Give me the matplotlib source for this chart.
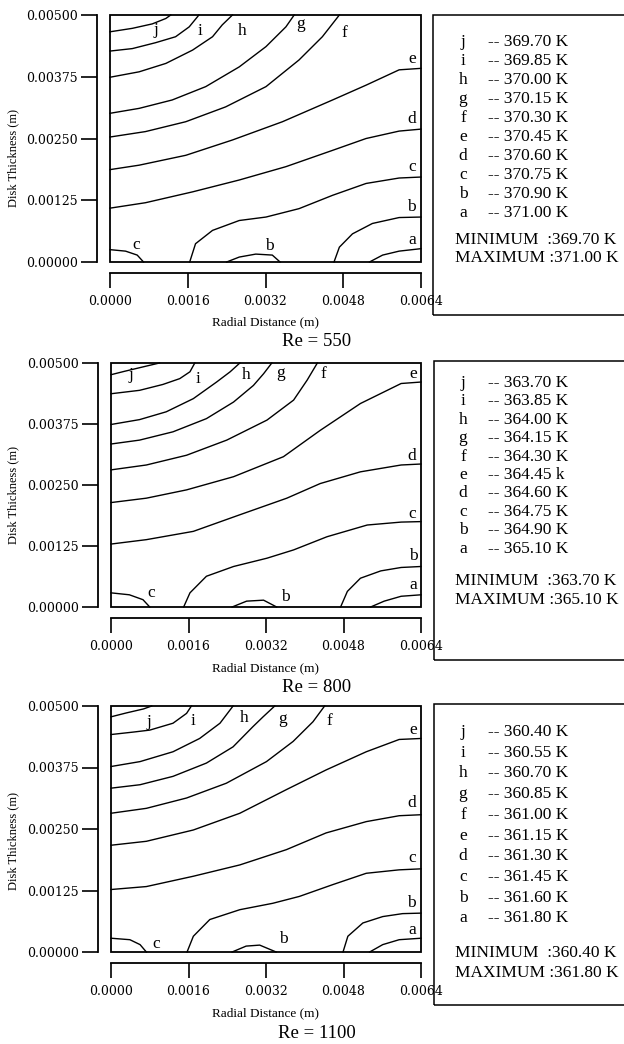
import matplotlib
matplotlib.use('Agg')
import matplotlib.pyplot as plt
from matplotlib.patches import Rectangle

plt.rcParams['font.family'] = ['Liberation Serif', 'DejaVu Serif']

W, H = 624, 1044

# 'data' : isotherms, x and y in mm
letters = ['j', 'i', 'h', 'g', 'f', 'e', 'd', 'c', 'b', 'a']
reynolds = ['550', '800', '1100']

temps_550 = ['369.70 K', '369.85 K', '370.00 K', '370.15 K', '370.30 K',
             '370.45 K', '370.60 K', '370.75 K', '370.90 K', '371.00 K']
temps_800 = ['363.70 K', '363.85 K', '364.00 K', '364.15 K', '364.30 K',
             '364.45 k', '364.60 K', '364.75 K', '364.90 K', '365.10 K']
temps_1100 = ['360.40 K', '360.55 K', '360.70 K', '360.85 K', '361.00 K',
              '361.15 K', '361.30 K', '361.45 K', '361.60 K', '361.80 K']
min_max = [('369.70 K', '371.00 K'), ('363.70 K', '365.10 K'), ('360.40 K', '361.80 K')]

iso_550 = [
    ([0, 0.46, 0.87, 1.15, 1.25], [4.66, 4.73, 4.82, 4.93, 5.0]),
    ([0, 0.46, 0.94, 1.35, 1.63, 1.83], [4.27, 4.32, 4.44, 4.56, 4.76, 5.0]),
    ([0, 0.60, 1.15, 1.70, 2.11, 2.31, 2.52], [3.74, 3.85, 4.02, 4.29, 4.56, 4.80, 5.0]),
    ([0, 0.60, 1.28, 1.97, 2.66, 3.21, 3.62, 3.79], [3.01, 3.11, 3.28, 3.55, 3.95, 4.36, 4.76, 5.0]),
    ([0, 0.73, 1.56, 2.38, 3.21, 3.89, 4.37, 4.72], [2.53, 2.64, 2.84, 3.14, 3.55, 4.09, 4.56, 5.0]),
    ([0, 0.60, 1.56, 2.52, 3.55, 4.58, 5.27, 5.95, 6.4], [1.87, 1.96, 2.16, 2.47, 2.84, 3.28, 3.58, 3.89, 3.92]),
    ([0, 0.73, 1.70, 2.66, 3.62, 4.58, 5.27, 5.95, 6.4], [1.09, 1.20, 1.42, 1.66, 1.93, 2.26, 2.50, 2.65, 2.69]),
    ([1.64, 1.76, 2.11, 2.66, 3.21, 3.89, 4.58, 5.27, 5.95, 6.4], [0, 0.37, 0.64, 0.84, 0.91, 1.08, 1.35, 1.59, 1.70, 1.72]),
    ([0, 0.32, 0.56, 0.69], [0.25, 0.22, 0.14, 0]),
    ([2.40, 2.66, 3.00, 3.34, 3.50], [0, 0.10, 0.16, 0.14, 0]),
    ([4.61, 4.72, 4.99, 5.40, 5.95, 6.4], [0, 0.30, 0.57, 0.78, 0.90, 0.91]),
    ([5.34, 5.61, 5.95, 6.4], [0, 0.14, 0.22, 0.27]),
]
tags_550 = [('j', 0.94, 4.70), ('i', 1.85, 4.68), ('h', 2.71, 4.68), ('g', 3.93, 4.82),
            ('f', 4.82, 4.63), ('e', 6.21, 4.10), ('d', 6.21, 2.89), ('c', 6.21, 1.93),
            ('b', 6.21, 1.11), ('a', 6.21, 0.45), ('c', 0.53, 0.35), ('b', 3.28, 0.32)]

iso_800 = [
    ([0, 0.28, 0.66, 1.00], [4.76, 4.83, 4.92, 5.0]),
    ([0, 0.59, 1.07, 1.42, 1.63, 1.73], [4.37, 4.44, 4.56, 4.68, 4.82, 5.0]),
    ([0, 0.59, 1.14, 1.70, 2.18, 2.46, 2.66], [3.74, 3.84, 4.00, 4.27, 4.61, 4.82, 5.0]),
    ([0, 0.59, 1.28, 1.97, 2.53, 2.94, 3.15, 3.32], [3.34, 3.42, 3.59, 3.86, 4.20, 4.54, 4.78, 5.0]),
    ([0, 0.73, 1.56, 2.39, 3.22, 3.77, 4.05, 4.26], [2.81, 2.91, 3.11, 3.42, 3.83, 4.24, 4.65, 5.0]),
    ([0, 0.73, 1.56, 2.53, 3.56, 4.32, 5.15, 5.99, 6.4], [2.14, 2.23, 2.40, 2.67, 3.08, 3.62, 4.17, 4.58, 4.61]),
    ([0, 0.73, 1.70, 2.66, 3.63, 4.32, 5.15, 5.99, 6.4], [1.29, 1.38, 1.55, 1.89, 2.23, 2.53, 2.77, 2.91, 2.93]),
    ([1.50, 1.63, 1.97, 2.53, 3.22, 3.77, 4.46, 5.29, 5.99, 6.4], [0, 0.29, 0.63, 0.83, 1.00, 1.17, 1.44, 1.68, 1.74, 1.75]),
    ([0, 0.38, 0.66, 0.80], [0.29, 0.25, 0.15, 0]),
    ([2.50, 2.80, 3.15, 3.42], [0, 0.12, 0.14, 0]),
    ([4.74, 4.88, 5.15, 5.57, 5.99, 6.4], [0, 0.32, 0.59, 0.74, 0.81, 0.83]),
    ([5.36, 5.64, 5.99, 6.4], [0, 0.12, 0.22, 0.25]),
]
tags_800 = [('j', 0.41, 4.76), ('i', 1.79, 4.68), ('h', 2.79, 4.75), ('g', 3.51, 4.80),
            ('f', 4.38, 4.78), ('e', 6.24, 4.78), ('d', 6.21, 3.09), ('c', 6.21, 1.91),
            ('b', 6.24, 1.05), ('a', 6.24, 0.46), ('c', 0.82, 0.29), ('b', 3.60, 0.20)]

iso_1100 = [
    ([0, 0.32, 0.67, 0.84], [4.78, 4.86, 4.94, 5.0]),
    ([0, 0.46, 0.80, 1.28, 1.56, 1.66], [4.42, 4.47, 4.51, 4.65, 4.85, 5.0]),
    ([0, 0.60, 1.28, 1.83, 2.25, 2.52], [3.77, 3.87, 4.07, 4.34, 4.65, 5.0]),
    ([0, 0.60, 1.28, 1.97, 2.52, 2.93, 3.14, 3.38], [3.33, 3.40, 3.57, 3.84, 4.17, 4.58, 4.78, 5.0]),
    ([0, 0.73, 1.56, 2.38, 3.21, 3.76, 4.17, 4.41], [2.82, 2.92, 3.13, 3.43, 3.87, 4.28, 4.68, 5.0]),
    ([0, 0.73, 1.70, 2.66, 3.62, 4.44, 5.27, 5.95, 6.4], [2.17, 2.25, 2.48, 2.82, 3.30, 3.70, 4.07, 4.32, 4.34]),
    ([0, 0.73, 1.70, 2.66, 3.62, 4.44, 5.27, 5.95, 6.4], [1.27, 1.33, 1.54, 1.77, 2.08, 2.42, 2.65, 2.77, 2.79]),
    ([1.57, 1.70, 2.04, 2.66, 3.34, 3.89, 4.58, 5.27, 5.95, 6.4], [0, 0.32, 0.66, 0.86, 0.99, 1.13, 1.37, 1.60, 1.67, 1.69]),
    ([0, 0.39, 0.60, 0.73], [0.28, 0.25, 0.15, 0]),
    ([2.50, 2.79, 3.07, 3.41], [0, 0.12, 0.14, 0]),
    ([4.79, 4.89, 5.20, 5.61, 6.02, 6.4], [0, 0.32, 0.59, 0.72, 0.78, 0.79]),
    ([5.34, 5.61, 5.95, 6.4], [0, 0.15, 0.25, 0.28]),
]
tags_1100 = [('j', 0.78, 4.68), ('i', 1.70, 4.70), ('h', 2.76, 4.75), ('g', 3.55, 4.73),
             ('f', 4.51, 4.70), ('e', 6.23, 4.51), ('d', 6.21, 3.02), ('c', 6.21, 1.92),
             ('b', 6.21, 0.99), ('a', 6.21, 0.45), ('c', 0.94, 0.17), ('b', 3.56, 0.26)]

x_ticks = [0.0, 0.0016, 0.0032, 0.0048, 0.0064]
y_ticks = [0.0, 0.00125, 0.0025, 0.00375, 0.005]

# layout in pixels: plot box (l, t, r, b), label rows, legend box
layout = [
    dict(box=(110, 15, 421, 262), ylab=158, xlab=322, re=342, leg=(433, 15, 315), rows=(42, 19.0, 240, 258)),
    dict(box=(111, 363, 421, 607), ylab=495, xlab=668, re=688, leg=(434, 361, 660), rows=(383, 18.4, 581, 600)),
    dict(box=(111, 706, 421, 952), ylab=841, xlab=1013, re=1033, leg=(434, 704, 1005), rows=(732, 20.7, 953, 973)),
]

fig = plt.figure(figsize=(W / 100, H / 100), dpi=100)

for k, (iso, tags, temps) in enumerate([(iso_550, tags_550, temps_550),
                                          (iso_800, tags_800, temps_800),
                                          (iso_1100, tags_1100, temps_1100)]):
    L = layout[k]
    l, t, r, b = L['box']
    ax = fig.add_axes([l / W, 1 - b / H, (r - l) / W, (b - t) / H])
    ax.set_xlim(0, 0.0064)
    ax.set_ylim(0, 0.005)

    for xs, ys in iso:
        ax.plot([v / 1000 for v in xs], [v / 1000 for v in ys], color='black', lw=1.0,
                solid_joinstyle='round', clip_on=False)
    for name, tx, ty in tags:
        ax.text(tx / 1000, ty / 1000, name, ha='center', va='center', fontsize=12.5)

    ax.add_patch(Rectangle((0, 0), 1, 1, transform=ax.transAxes, fill=False,
                           lw=1.3, color='black', clip_on=False))
    for s in ['top', 'right']:
        ax.spines[s].set_visible(False)
    ax.spines['left'].set_position(('outward', 13 * 0.72))
    ax.spines['bottom'].set_position(('outward', 11 * 0.72))
    ax.spines['left'].set_linewidth(1.3)
    ax.spines['bottom'].set_linewidth(1.3)

    ax.set_xticks(x_ticks)
    ax.set_xticklabels(['%.4f' % v for v in x_ticks])
    ax.set_yticks(y_ticks)
    ax.set_yticklabels(['%.5f' % v for v in y_ticks])
    ax.tick_params(axis='y', direction='out', length=11.5, width=1.2, pad=2.5, labelsize=9)
    ax.tick_params(axis='x', direction='out', length=10.8, width=1.2, pad=5, labelsize=9)
    for lab in ax.get_xticklabels() + ax.get_yticklabels():
        lab.set_fontfamily('DejaVu Serif')

    fig.text(13 / W, 1 - L['ylab'] / H, 'Disk Thickness (m)', rotation=90,
             ha='center', va='center', fontsize=9)
    fig.text((l + r) / 2 / W, 1 - L['xlab'] / H, 'Radial Distance (m)',
             ha='center', va='center', fontsize=9.5)
    fig.text(317 / W, 1 - L['re'] / H, 'Re = ' + reynolds[k],
             ha='center', va='center', fontsize=13.5)

    # legend box
    lx, lt, lb = L['leg']
    fig.add_artist(Rectangle((lx / W, 1 - lb / H), 0.5, (lb - lt) / H,
                             transform=fig.transFigure, fill=False, lw=1.1, color='black'))
    y0, step, ymin, ymax = L['rows']
    for n, (name, temp) in enumerate(zip(letters, temps)):
        yy = 1 - (y0 + n * step) / H
        fig.text(463 / W, yy, name, ha='center', va='center', fontsize=12.5)
        fig.text(488 / W, yy, '-- ' + temp, ha='left', va='center', fontsize=12.5)
    fig.text(455 / W, 1 - ymin / H, 'MINIMUM  :' + min_max[k][0], ha='left', va='center', fontsize=12.5)
    fig.text(455 / W, 1 - ymax / H, 'MAXIMUM :' + min_max[k][1], ha='left', va='center', fontsize=12.5)

fig.savefig('out.png', dpi=100)
